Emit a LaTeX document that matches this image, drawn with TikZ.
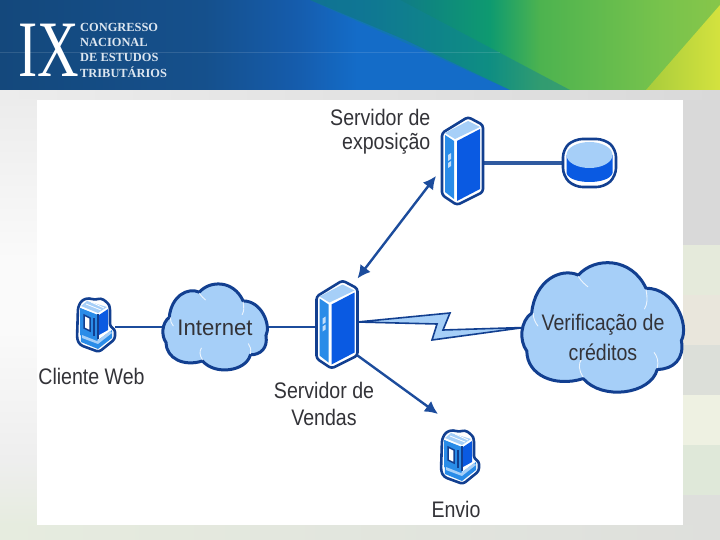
\documentclass[tikz,border=0pt]{standalone}
\usepackage{fontspec}
\setmainfont{Liberation Sans}
\newfontfamily\logofont{Liberation Serif}
\usetikzlibrary{arrows.meta,calc}
\definecolor{dk}{HTML}{123F90}
\definecolor{lineb}{HTML}{1C4C9C}
\definecolor{lineh}{HTML}{2F5AA0}
\definecolor{lt}{HTML}{A6CFF8}
\definecolor{br}{HTML}{0A5AE2}
\definecolor{md}{HTML}{2A8CE8}
\definecolor{tx}{HTML}{333338}
\definecolor{logoc}{HTML}{DCE6F0}
\definecolor{tealb}{HTML}{10809A}
\definecolor{yl}{HTML}{A8CC3C}
\definecolor{yr}{HTML}{D4E23E}
\definecolor{h0}{HTML}{14487C}
\definecolor{h1}{HTML}{0F6E90}
\definecolor{h2}{HTML}{0E9A70}
\definecolor{h3}{HTML}{4DB34F}
\definecolor{h4}{HTML}{78C34C}
\definecolor{h5}{HTML}{87C64A}
\definecolor{b1}{HTML}{15508C}
\definecolor{b2}{HTML}{155CAC}
\definecolor{b3}{HTML}{146CC8}
\definecolor{r1}{HTML}{D9D9D9}
\definecolor{r2}{HTML}{E5EADB}
\definecolor{r3}{HTML}{E9E6DC}
\definecolor{r4}{HTML}{DCDFD9}
\definecolor{r5}{HTML}{EEF1E2}
\definecolor{r6}{HTML}{DFE8D9}
\definecolor{r7}{HTML}{DEDFDC}
\definecolor{l1}{HTML}{ECECEC}
\definecolor{l2}{HTML}{FAFAFA}
\definecolor{l3}{HTML}{EEEEEE}
\definecolor{l4}{HTML}{E6ECDF}
\pgfdeclarehorizontalshading{hdrbase}{100bp}{
 color(0bp)=(h0); color(25bp)=(h0);
 color(50bp)=(h1);
 color(59bp)=(h2);
 color(62.5bp)=(h3);
 color(71bp)=(h4);
 color(75bp)=(h5);
 color(100bp)=(h5)}
\pgfdeclarehorizontalshading{hdrblue}{100bp}{
 color(0bp)=(h0); color(25bp)=(h0);
 color(45bp)=(b1);
 color(54bp)=(b2);
 color(60bp)=(b3);
 color(100bp)=(b3)}
\tikzset{
 lbl/.style={text=tx,font=\fontsize{22.5}{26}\selectfont,inner sep=0pt,align=center,xscale=.87},
 logo/.style={text=logoc,font=\logofont\bfseries\fontsize{12.4}{14}\selectfont,inner sep=0pt,anchor=west},
 slot/.style={inner sep=0pt,outer sep=0pt},
 wire/.style={draw=lineb,line width=2.6pt},
 arrowline/.style={draw=lineb,line width=2.4pt,-{Latex[length=13pt,width=13pt]}},
 arrowboth/.style={draw=lineb,line width=2.4pt,{Latex[length=13pt,width=13pt]}-{Latex[length=13pt,width=13pt]}},
 outl/.style={draw=dk,line width=2.6pt,line join=round,fill=white}
}
\newcommand{\servericon}[2]{%
 \begin{scope}[shift={(#1,#2)}]
  \draw[outl,rounded corners=3pt] (26,0)--(41,8)--(41,75)--(15,88)--(0,78)--(0,16)--cycle;
  \fill[lt] (26,4)--(38,10)--(13,22)--(3,16)--cycle;
  \fill[md] (3,18)--(12,24)--(12,82)--(3,75)--cycle;
  \fill[br] (15,24)--(38,12)--(38,72)--(15,84)--cycle;
  \fill[lt!70!white] (6,38)--(9,36)--(9,42)--(6,44)--cycle;
  \fill[lt!70!white] (6,46)--(9,44)--(9,49)--(6,51)--cycle;
 \end{scope}}
\newcommand{\clienticon}[2]{%
 \begin{scope}[shift={(#1,#2)}]
  \draw[outl,rounded corners=3pt] (1,10)--(5,3)--(12,1)--(18,3)--(24,1)--(31,6)--(33,10)--(33,30)--(38,32)--(38,42)--(22,55)--(3,48)--(0,42)--cycle;
  \fill[md] (3,11)--(20,18)--(20,44)--(35,33)--(35,41)--(21,52)--(4,45)--cycle;
  \fill[md] (3,11)--(21,18)--(21,44)--(3,38)--cycle;
  \fill[lt] (4,9)--(10,4)--(30,10)--(21,16)--cycle;
  \draw[white,line width=.8pt] (9,7)--(24,13) (14,5)--(27,11);
  \fill[br] (22,18)--(31,12)--(31,33)--(22,38)--cycle;
  \fill[white] (7,18)--(13,21)--(13,34)--(7,31)--cycle;
  \draw[dk,line width=1.5pt] (7,18)--(13,21)--(13,34)--(7,31)--cycle;
  \draw[dk,line width=1.5pt] (17,21)--(17,39);
  \draw[dk,line width=1.5pt] (21,17)--(21,42);
  \fill[lt] (5,38)--(20,44)--(33,34)--(35,36)--(21,47)--(5,41)--cycle;
 \end{scope}}
\newcommand{\cloudshape}[4]{%
 \begin{scope}[shift={(#1,#2)},xscale=#3/100,yscale=#4/100]
  \draw[draw=dk,line width=3pt,fill=lt,line join=round]
   (6,39) .. controls (8,14) and (24,4) .. (35,10)
   .. controls (45,-4) and (68,-4) .. (77,20)
   .. controls (95,20) and (104,48) .. (99,60)
   .. controls (101,74) and (94,82) .. (84,82)
   .. controls (80,101) and (50,106) .. (38,89)
   .. controls (20,96) and (3,86) .. (3,68)
   .. controls (-2,60) and (-1,45) .. (6,39) -- cycle;
  \draw[white,line width=0.9pt,opacity=.8]
   (35,11) .. controls (37,15) and (39,17) .. (41,19)
   (77,21) .. controls (78,28) and (78,32) .. (76,36)
   (84,81) .. controls (85,76) and (84,72) .. (82,69)
   (38,88) .. controls (35,82) and (35,78) .. (37,74)
   (7,39) .. controls (7,43) and (8,46) .. (10,49);
 \end{scope}}
\begin{document}
\begin{tikzpicture}[x=1pt,y=-1pt]
\useasboundingbox (0,0) rectangle (720,540);
% slide background
\shade[left color=l1,right color=r1] (0,90) rectangle (720,100);
\shade[left color=l4,right color=r7] (0,525) rectangle (720,540);
\shade[top color=l1,bottom color=l2] (0,100) rectangle (37,260);
\fill[l2] (0,260) rectangle (37,330);
\shade[top color=l2,bottom color=l3] (0,330) rectangle (37,460);
\shade[top color=l3,bottom color=l4] (0,460) rectangle (37,525);
\fill[r1] (683,100) rectangle (720,245);
\fill[r2] (683,245) rectangle (720,295);
\fill[r3] (683,295) rectangle (720,345);
\fill[r4] (683,345) rectangle (720,395);
\fill[r5] (683,395) rectangle (720,445);
\fill[r6] (683,445) rectangle (720,495);
\fill[r7] (683,495) rectangle (720,525);
% header
\shade[shading=hdrbase] (0,0) rectangle (720,90);
\shade[shading=hdrblue] (0,0)--(310,0)--(405,40)--(510,90)--(0,90)--cycle;
\fill[tealb,opacity=.45] (310,0)--(400,0)--(570,90)--(510,90)--cycle;
\shade[left color=yl,right color=yr] (720,5)--(720,90)--(646,90)--cycle;
\fill[white,opacity=.12] (0,52) rectangle (500,53.2);
\node[slot,text=white,font=\logofont\fontsize{80}{80}\selectfont,xscale=.72] (ix) at (49,50) {IX};
\node[logo] (l1n) at (80,27.5) {CONGRESSO};
\node[logo] (l2n) at (80,42.5) {NACIONAL};
\node[logo] (l3n) at (80,57.5) {DE ESTUDOS};
\node[logo] (l4n) at (80,72.5) {TRIBUTÁRIOS};
% white panel
\fill[white] (37,100) rectangle (683,525);
% layout slots
\node[slot,minimum width=41pt,minimum height=88pt] (expo) at (462.5,161) {};
\node[slot,minimum width=41pt,minimum height=88pt] (vendas) at (337,324.5) {};
\node[slot,minimum width=38pt,minimum height=55pt] (client) at (96,324.5) {};
\node[slot,minimum width=38pt,minimum height=55pt] (envio) at (460,456.5) {};
\node[slot,minimum width=55pt,minimum height=50pt] (disk) at (589.5,163) {};
\node[slot,minimum width=104pt,minimum height=87pt] (inetbox) at (215,327) {};
\node[slot,minimum width=161pt,minimum height=131pt] (verifbox) at (602.5,327.5) {};
% connectors
\draw[wire] (client.east|-inetbox.west) -- (inetbox.west);
\draw[wire] (inetbox.east) -- (vendas.west|-inetbox.east);
\draw[draw=lineh,line width=3.8pt] (expo.east|-disk.west) -- (disk.west);
\draw[arrowboth] ([shift={(0,-2)}]vendas.north east) -- ([shift={(-6,-29)}]expo.south west);
\draw[arrowline] ([shift={(0,-13)}]vendas.south east) -- ([shift={(-3,-15)}]envio.north west);
\coordinate (za) at ([yshift=2.5]vendas.east);
\coordinate (zb) at (450,313);
\coordinate (zc) at (443,330);
\coordinate (zd) at ([xshift=2]verifbox.west);
\coordinate (ze) at (432,340);
\coordinate (zf) at (437,324);
\draw[draw=dk,line width=1.6pt,fill=lt,line join=miter] (za)--(zb)--(zc)--(zd)--(ze)--(zf)--cycle;
% icons
\servericon{442}{117}
\servericon{316.5}{280.5}
\clienticon{77}{297}
\clienticon{441}{429}
\begin{scope}[shift={(589.5,163)}]
 \draw[draw=dk,line width=2.6pt,fill=white,rounded corners=8pt] (-26.5,-14)--(-15,-24)--(15,-24)--(26.5,-14)--(26.5,13)--(15,24)--(-15,24)--(-26.5,13)--cycle;
 \fill[br] (-23,-8) -- (-23,10) .. controls (-20,22) and (20,22) .. (23,10) -- (23,-8) -- cycle;
 \fill[lt] (0,-8) ellipse [x radius=23,y radius=13];
\end{scope}
\cloudshape{163}{283.5}{104}{87}
\cloudshape{522}{262}{161}{131}
% labels
\node[lbl,anchor=east] (t1) at (430.5,117) {Servidor de};
\node[lbl,anchor=east] (t2) at (430.5,144) {exposição};
\node[lbl] (t3) at (91.5,376) {Cliente Web};
\node[lbl] (t4) at (324,390) {Servidor de};
\node[lbl] (t5) at (324,417) {Vendas};
\node[lbl] (t6) at (456,509) {Envio};
\node[lbl,xscale=1.13] (t7) at (215,328) {Internet};
\node[lbl] (t8) at (603,325) {Verificação de};
\node[lbl] (t9) at (603,352) {créditos};
\end{tikzpicture}
\end{document}
